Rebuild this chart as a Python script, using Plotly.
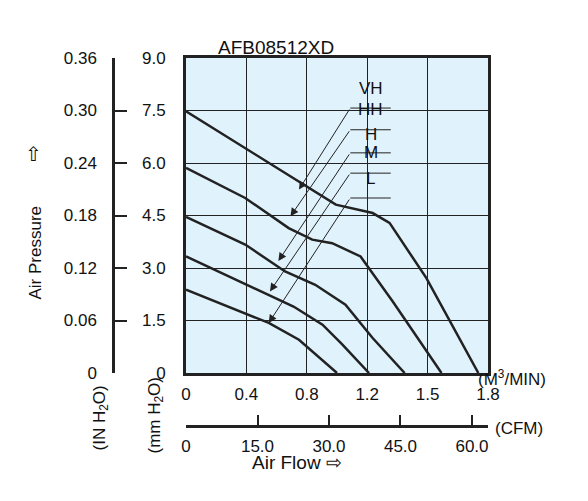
import plotly.graph_objects as go

# x in grid divisions (0..5), labels per division; y in mm H2O
x_ticklabels = ["0", "0.4", "0.8", "1.2", "1.5", "1.8"]
y_mm_labels = ["0", "1.5", "3.0", "4.5", "6.0", "7.5", "9.0"]
y_in_labels = ["0", "0.06", "0.12", "0.18", "0.24", "0.30", "0.36"]
cfm_labels = ["0", "15.0", "30.0", "45.0", "60.0"]

vh_x = [0, 1.87, 2.48, 3.09, 3.37, 3.98, 4.84]
vh_y = [7.48, 5.48, 4.81, 4.57, 4.29, 2.71, 0]
hh_x = [0, 0.98, 1.70, 2.09, 2.42, 2.89, 3.42, 4.23]
hh_y = [5.86, 5.0, 4.14, 3.81, 3.71, 3.33, 2.05, 0]
h_x = [0, 0.98, 1.64, 2.14, 2.64, 3.09, 3.62]
h_y = [4.46, 3.67, 2.90, 2.52, 1.95, 1.0, 0]
m_x = [0, 1.37, 1.78, 2.26, 2.59, 3.03]
m_y = [3.33, 2.24, 1.90, 1.38, 0.81, 0]
l_x = [0, 1.37, 1.87, 2.50]
l_y = [2.38, 1.43, 0.95, 0]

labels = ["VH", "HH", "H", "M", "L"]
label_y = [8.14, 7.52, 6.81, 6.30, 5.55]
tail_y = [7.57, 6.95, 6.29, 5.71, 5.0]
head_x = [1.87, 1.73, 1.53, 1.39, 1.37]
head_y = [5.24, 4.48, 3.2, 2.33, 1.43]

BG = "#e0f2fb"
FONT = "Liberation Sans, Arial, sans-serif"

fig = go.Figure()
for xs, ys in [(vh_x, vh_y), (hh_x, hh_y), (h_x, h_y), (m_x, m_y), (l_x, l_y)]:
    fig.add_trace(go.Scatter(x=xs, y=ys, mode="lines", line=dict(color="#222", width=2.5),
                             showlegend=False, hoverinfo="skip"))
fig.add_trace(go.Scatter(x=[0], y=[0], xaxis="x2", yaxis="y", mode="markers",
                         marker=dict(opacity=0), showlegend=False, hoverinfo="skip"))
fig.add_trace(go.Scatter(x=[0], y=[0], xaxis="x", yaxis="y2", mode="markers",
                         marker=dict(opacity=0), showlegend=False, hoverinfo="skip"))

x0 = (178 - 20) / 460
fig.update_layout(
    width=588, height=501, margin=dict(l=20, r=108, t=10, b=10, autoexpand=False),
    paper_bgcolor="white", plot_bgcolor=BG, font=dict(family=FONT, size=17, color="#111"),
    xaxis=dict(domain=[x0, 1], range=[0, 5], tickvals=list(range(6)), ticktext=x_ticklabels,
               showgrid=True, gridcolor="#222", gridwidth=1, zeroline=False, showline=True,
               linecolor="#222", linewidth=3, mirror=True, ticks="", automargin=False,
               ticklabelstandoff=4),
    yaxis=dict(domain=[(491 - 365) / 481, (491 - 50) / 481], range=[0, 9],
               tickvals=[0, 1.5, 3, 4.5, 6, 7.5, 9], ticktext=y_mm_labels,
               showgrid=True, gridcolor="#222", gridwidth=1, zeroline=False, showline=True,
               linecolor="#222", linewidth=3, mirror=True, ticks="", ticklabelstandoff=14,
               automargin=False),
    yaxis2=dict(overlaying="y", anchor="free", position=(105 - 20) / 460, side="left",
                range=[0, 0.36], tickvals=[0, 0.06, 0.12, 0.18, 0.24, 0.30, 0.36],
                ticktext=y_in_labels, ticks="inside", ticklen=12, tickwidth=2, tickcolor="#222",
                showline=True, linecolor="#222", linewidth=2.5, showgrid=False, zeroline=False,
                ticklabelstandoff=12, automargin=False),
    xaxis2=dict(overlaying="x", anchor="free", position=(491 - 418) / 481, side="bottom",
                domain=[x0, 1], range=[0, 63.36], tickvals=[0, 15, 30, 45, 60], ticktext=cfm_labels,
                ticks="inside", ticklen=10, tickwidth=1.5, tickcolor="#222", showline=True,
                linecolor="#222", linewidth=2.5, showgrid=False, zeroline=False, automargin=False,
                ticklabelstandoff=4),
)

anns = [
    dict(text="AFB08512XD", x=328, y=27, font=dict(size=19)),
    dict(text="(M<sup>3</sup>/MIN)", x=540, y=383),
    dict(text="(CFM)", x=537, y=432),
    dict(text="Air Flow ⇨", x=336, y=467, font=dict(size=19)),
    dict(text="Air Pressure", x=15, y=245, textangle=-90),
    dict(text="⇧", x=15, y=133, font=dict(size=20)),
    dict(text="(IN H<sub>2</sub>O)", x=79, y=445, textangle=-90),
    dict(text="(mm H<sub>2</sub>O)", x=135, y=448, textangle=-90),
]
for a in anns:
    fig.add_annotation(text=a["text"], x=(a["x"] - 20) / 460, y=(491 - a["y"]) / 481,
                       xref="paper", yref="paper", showarrow=False,
                       textangle=a.get("textangle", 0), font=a.get("font", dict(size=17)))

# background gap behind labels
fig.add_shape(type="rect", x0=2.75, x1=3.55, y0=4.95, y1=8.6, xref="x", yref="y",
              fillcolor=BG, line=dict(width=0), layer="below")
for lab, ly, ty, hx, hy in zip(labels, label_y, tail_y, head_x, head_y):
    fig.add_annotation(text=lab, x=3.06, y=ly, xref="x", yref="y", showarrow=False,
                       font=dict(size=17))
    fig.add_shape(type="line", x0=2.72, x1=3.39, y0=ty, y1=ty, xref="x", yref="y",
                  line=dict(color="#222", width=1))
    fig.add_annotation(x=hx, y=hy, ax=2.72, ay=ty, xref="x", yref="y", axref="x", ayref="y",
                       text="", showarrow=True, arrowhead=2, arrowsize=1.6, arrowwidth=1,
                       arrowcolor="#222")

fig.write_html("out.html")
